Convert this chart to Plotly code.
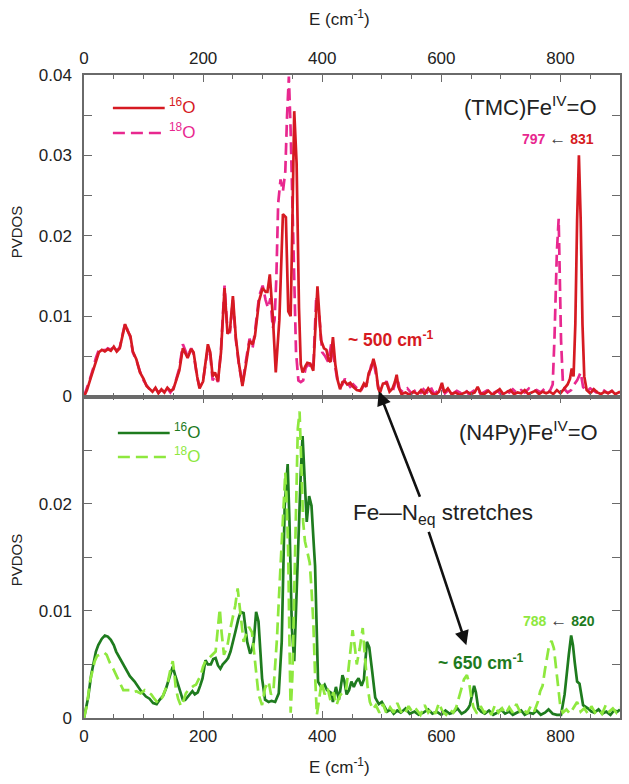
import numpy as np
import plotly.graph_objects as go

# ---------------- data (PVDOS values given in units of 1e-3) ----------------
tmc16_E = [0,5,10,15,20,25,30,35,40,45,50,55,60,65,69,73,78,82,88,94,100,105,110,115,120,125,130,135,140,145,150,155,160,166,170,174,180,184,190,194,200,205,208,212,216,220,225,230,236,241,245,250,255,260,266,272,278,283,287,294,300,305,308,312,317,322,328,334,339,343,347,350,353,357,361,364,367,372,375,380,385,392,398,403,407,411,414,418,422,426,430,434,438,442,447,452,458,464,470,474,478,482,486,490,494,497,502,508,513,518,522,525,528,533,540,547,553,560,566,572,578,584,590,596,601,605,611,617,624,630,637,643,650,656,661,666,672,679,686,692,698,704,710,716,722,728,734,740,746,752,758,764,770,776,782,788,794,800,806,812,816,819,822,825,828,831,834,837,840,844,850,856,862,868,874,880,886,892,900]
tmc16_v = [0,0.8,2.0,3.2,4.6,5.5,5.8,5.6,5.9,5.7,6.2,5.6,6.0,7.6,9.0,8.2,7.5,5.6,4.6,3.0,2.2,1.3,1.0,0.6,1.1,0.4,0.9,0.5,1.1,0.7,0.9,2.0,3.2,6.0,5.4,4.8,5.9,5.5,2.5,1.0,1.9,4.5,6.5,5.5,2.5,3.0,1.9,5.5,13.5,7.8,8.2,12.5,7.3,4.2,1.3,4.0,6.9,6.5,7.5,11.9,13.5,13.0,13.0,15.2,10.0,3.0,9.5,22.7,22.3,10.6,10.0,22.0,35.5,29.0,11.0,4.0,3.0,3.8,4.2,4.1,3.2,13.7,7.0,6.0,5.8,4.5,4.3,7.4,4.0,2.0,0.9,1.8,1.9,1.5,1.7,1.2,0.8,0.7,1.6,1.2,2.9,3.5,4.7,3.5,1.0,0.5,1.6,1.7,0.6,1.0,1.8,2.7,1.2,0.3,0.5,0.2,0.6,0.3,0.8,0.3,1.0,0.4,0.2,0.6,1.7,0.5,1.0,0.3,0.5,0.2,0.4,0.6,0.3,0.5,1.2,0.4,0.3,0.7,0.2,0.5,0.9,0.3,0.5,0.8,0.3,0.5,0.4,0.8,0.3,0.5,0.7,0.3,0.6,0.4,0.6,0.3,0.8,0.4,0.9,1.5,2.2,3.5,2.5,9.0,22.0,30.0,22.0,9.0,2.5,0.8,0.4,0.9,0.5,0.3,0.6,0.4,0.7,0.3,0.6]

tmc18_E = [0,5,10,15,20,25,30,35,40,45,50,55,60,65,69,73,78,82,88,94,100,105,110,115,120,125,130,135,140,145,150,155,160,166,170,174,180,184,190,194,200,205,208,212,216,220,225,230,236,241,245,250,255,260,266,272,278,283,287,294,300,305,309,313,317,320,323,326,330,334,338,341,344,347,350,353,356,360,364,368,372,376,380,385,390,395,400,405,410,415,420,425,430,434,438,442,447,452,458,464,470,474,478,482,486,490,494,498,503,508,513,518,522,526,530,536,543,550,557,564,570,576,582,588,594,600,606,612,618,626,633,640,646,653,660,666,673,680,687,694,700,707,714,720,727,734,740,747,754,760,767,774,780,783,787,790,794,797,801,804,808,812,818,823,828,834,838,844,850,860,870,880,890,900]
tmc18_v = [0,1.0,2.2,3.4,4.8,5.8,6.0,5.7,6.0,5.8,6.3,5.7,6.1,7.8,9.1,8.3,7.3,5.5,4.5,3.1,2.0,1.4,0.9,0.7,1.0,0.5,0.8,0.6,1.0,0.5,1.0,2.2,3.5,6.5,5.8,5.0,6.0,5.3,2.4,1.2,2.0,4.2,6.0,5.2,2.0,2.6,1.8,5.8,13.8,8.0,8.0,12.0,7.0,4.0,1.5,4.5,7.2,6.0,8.0,12.5,13.8,12.0,11.0,12.2,8.5,9.5,14.8,24.0,27.0,25.5,28.0,35.0,39.8,33.0,24.0,15.0,5.5,2.0,1.8,2.0,3.5,4.0,3.8,3.5,12.5,10.0,5.5,5.0,4.3,6.5,4.5,2.2,1.2,1.5,2.2,1.8,1.2,1.5,1.0,0.6,1.4,1.5,2.5,3.8,4.5,3.0,1.2,0.8,1.4,1.9,0.8,0.6,1.5,2.4,0.9,0.5,1.0,0.4,0.8,0.3,0.9,0.5,1.2,0.3,0.7,1.3,0.4,0.8,0.3,0.7,0.4,0.9,0.3,0.6,1.0,0.3,0.6,0.9,0.4,0.7,0.3,0.8,0.5,0.9,0.4,0.8,0.5,1.0,0.6,0.8,0.5,1.0,0.6,0.8,1.5,7.3,18.0,22.1,7.0,1.9,0.8,0.5,0.8,1.5,2.0,3.0,1.2,0.6,1.0,0.5,0.9,0.4,0.8,0.5]

n4py16_E = [0,7,12,16,20,24,30,35,40,45,50,54,60,66,72,77,85,90,96,104,110,116,122,127,133,138,144,149,153,157,162,166,170,174,178,182,186,191,195,199,204,208,213,217,221,225,229,233,238,242,246,250,254,259,263,268,271,274,279,282,285,289,293,296,299,304,310,315,321,327,332,337,342,345,349,353,356,360,364,367,371,374,378,382,386,388,393,399,404,408,414,418,423,428,434,437,441,445,449,453,457,461,466,470,475,479,484,489,495,500,505,509,515,520,526,532,540,547,555,562,570,578,585,592,600,607,614,620,627,634,640,645,648,652,655,658,662,667,673,680,687,694,700,707,714,720,727,734,740,747,754,760,767,774,780,787,794,801,807,811,814,818,821,824,828,832,835,838,846,852,857,864,870,877,884,890,896,900]
n4py16_v = [0,1.9,4.0,5.3,6.2,6.8,7.4,7.7,7.6,7.3,6.8,6.2,5.6,5.0,4.4,3.9,3.4,3.0,2.5,2.0,1.8,1.4,1.3,1.7,2.1,2.8,3.8,4.8,4.0,3.3,2.4,1.7,1.7,2.0,2.2,2.5,2.2,2.4,3.0,3.7,5.4,5.0,5.0,5.5,5.6,4.9,4.6,5.0,5.3,5.6,6.2,7.0,8.0,9.2,9.9,9.8,8.5,7.1,6.0,6.4,7.1,9.9,9.0,6.0,3.7,1.7,1.5,1.6,1.5,2.3,7.1,19.8,23.7,18.3,8.4,5.3,10.5,17.6,22.9,26.3,21.4,18.3,20.7,19.8,16.0,14.2,3.4,2.8,3.1,2.6,2.4,1.5,2.9,1.7,4.0,3.5,2.2,2.6,3.4,2.9,3.4,3.7,3.0,3.6,7.1,6.6,4.3,1.9,1.3,1.5,1.0,0.6,0.8,0.4,0.7,0.5,0.9,0.4,0.6,0.3,0.5,0.8,0.4,0.6,0.3,0.7,0.4,0.5,0.9,0.4,0.6,0.9,1.2,2.2,3.0,2.4,0.9,0.6,0.4,0.7,0.3,0.5,0.8,0.4,0.6,0.3,0.5,0.7,0.3,0.5,0.4,0.7,0.3,0.5,0.8,0.4,0.3,0.3,2.2,4.5,5.9,7.7,6.8,5.2,3.4,3.2,2.0,1.2,0.9,0.6,0.5,0.8,0.4,0.6,0.3,0.7,0.6,0.8]

n4py18_E = [0,5,10,14,18,22,29,34,38,43,49,53,57,62,66,72,77,83,88,95,102,108,113,118,124,128,132,137,141,145,149,152,154,158,163,167,171,175,179,184,188,192,196,200,204,210,216,221,225,228,231,235,238,241,246,250,254,258,263,268,272,277,282,285,288,293,299,304,310,314,318,321,324,328,332,335,338,341,343,345,347,350,352,356,359,362,364,368,371,374,379,382,385,388,391,395,399,404,409,414,419,424,429,435,440,444,447,451,455,458,463,468,472,476,480,485,490,496,502,508,514,520,526,532,538,545,552,558,565,572,578,584,590,596,602,608,614,620,625,630,634,638,643,647,650,654,660,666,672,678,684,690,696,702,708,714,720,726,732,738,744,750,756,762,766,770,774,778,781,785,789,793,797,800,804,810,816,822,828,834,840,846,852,858,864,870,876,882,888,894,900]
n4py18_v = [0,1.2,3.4,4.5,5.3,5.8,6.0,6.1,5.9,5.2,4.6,4.1,3.7,3.1,2.6,2.6,2.6,2.4,2.5,2.3,2.6,2.4,2.2,1.8,1.4,1.6,2.0,2.7,3.4,4.5,5.3,4.0,2.8,1.8,1.1,1.6,2.3,2.6,2.8,3.0,3.1,3.6,4.0,4.8,5.3,5.6,5.9,6.2,8.5,10.2,8.0,5.9,6.3,6.8,8.4,9.5,10.5,12.1,9.6,7.1,7.8,8.5,8.0,6.5,5.0,2.2,1.2,2.8,3.4,2.2,2.5,5.0,7.4,12.0,16.7,20.5,22.9,19.0,15.0,7.0,0.5,4.0,9.0,21.0,27.0,28.6,25.5,18.3,16.5,15.8,14.5,12.0,9.0,4.0,0.3,1.8,3.4,2.2,2.8,1.6,2.4,1.2,2.0,2.5,2.6,4.5,6.0,8.2,6.5,5.0,6.5,8.4,5.5,3.0,1.5,0.8,1.2,0.5,1.3,0.4,1.0,0.5,1.4,0.6,0.3,1.1,0.5,0.8,0.3,1.2,0.5,0.9,0.4,1.4,0.6,0.3,0.8,0.5,1.0,2.0,3.0,3.6,4.0,3.2,2.0,1.0,0.4,1.1,0.5,0.8,0.3,1.2,0.5,0.9,0.4,1.0,0.5,1.3,0.6,0.9,0.4,1.1,0.6,1.5,2.5,3.0,4.5,6.0,6.8,7.2,6.5,4.5,2.5,1.0,0.5,0.8,0.4,1.0,1.5,0.6,0.9,0.4,1.1,0.5,0.8,0.4,1.2,0.6,0.9,0.5,1.0]

x_ticks = [0, 200, 400, 600, 800]
top_yvals = [0, 0.005, 0.01, 0.015, 0.02, 0.025, 0.03, 0.035, 0.04]
top_ylabels = ["0", "", "0.01", "", "0.02", "", "0.03", "", "0.04"]
bot_yvals = [0, 0.005, 0.01, 0.015, 0.02, 0.025]
bot_ylabels = ["0", "", "0.01", "", "0.02", ""]

# ---------------- style ----------------
RED = "#d61a22"
MAG = "#e8288f"
DKG = "#1e7b1e"
LTG = "#8ee83e"
AX = "#6a6a6a"
FONT = "Liberation Sans, Arial, sans-serif"

W, H = 629, 784
ML, MR, MT, MB = 84, 7, 75, 66
PW, PH = W - ML - MR, H - MT - MB

def px(x):
    return (x - ML) / PW

def py(y):
    return (H - MB - y) / PH

scale = lambda v: np.array(v) / 1000.0

fig = go.Figure()
fig.add_trace(go.Scatter(x=tmc18_E, y=scale(tmc18_v), mode="lines", xaxis="x", yaxis="y",
                         line=dict(color=MAG, width=2.7, dash="12px,6px"), showlegend=False))
fig.add_trace(go.Scatter(x=tmc16_E, y=scale(tmc16_v), mode="lines", xaxis="x", yaxis="y",
                         line=dict(color=RED, width=2.7), showlegend=False))
fig.add_trace(go.Scatter(x=n4py16_E, y=scale(n4py16_v), mode="lines", xaxis="x2", yaxis="y2",
                         line=dict(color=DKG, width=2.7), showlegend=False))
fig.add_trace(go.Scatter(x=n4py18_E, y=scale(n4py18_v), mode="lines", xaxis="x2", yaxis="y2",
                         line=dict(color=LTG, width=2.7, dash="12px,6px"), showlegend=False))

xcommon = dict(range=[0, 900], tickvals=x_ticks, ticks="inside", ticklen=7, tickwidth=1.3,
               tickcolor=AX, showline=True, linecolor=AX, linewidth=1.5, mirror="ticks",
               showgrid=False, zeroline=False, tickfont=dict(size=17, color="#222", family=FONT),
               minor=dict(dtick=50, tick0=0, ticks="inside", ticklen=4, tickcolor=AX, showgrid=False))
ycommon = dict(ticks="inside", ticklen=8, tickwidth=1.3, tickcolor=AX, showline=True,
               linecolor=AX, linewidth=1.5, mirror="ticks", showgrid=False, zeroline=False,
               tickfont=dict(size=17, color="#222", family=FONT), ticklabelstandoff=7)

fig.update_layout(
    width=W, height=H, margin=dict(l=ML, r=MR, t=MT, b=MB),
    paper_bgcolor="white", plot_bgcolor="white",
    font=dict(family=FONT, color="#222"),
    xaxis=dict(**xcommon, anchor="y", side="top", domain=[0, 1], ticklabelstandoff=2),
    yaxis=dict(**ycommon, domain=[0.5, 1], range=[0, 0.04], tickvals=top_yvals, ticktext=top_ylabels, anchor="x"),
    xaxis2=dict(**xcommon, anchor="y2", side="bottom", domain=[0, 1], ticklabelstandoff=2),
    yaxis2=dict(**ycommon, domain=[0, 0.5], range=[0, 0.03], tickvals=bot_yvals, ticktext=bot_ylabels, anchor="x2"),
)

ann = []
def text(x, y, s, size, color, xanchor="left", yanchor="middle", angle=0):
    ann.append(dict(x=px(x), y=py(y), xref="paper", yref="paper", text=s, showarrow=False,
                    xanchor=xanchor, yanchor=yanchor, textangle=angle,
                    font=dict(size=size, color=color, family=FONT)))

# axis titles
text(340, 18, "E (cm<sup>-1</sup>)", 17, "#222", xanchor="center")
text(340, 766, "E (cm<sup>-1</sup>)", 17, "#222", xanchor="center")
text(16, 232, "PVDOS", 15, "#222", xanchor="center", angle=-90)
text(16, 560, "PVDOS", 15, "#222", xanchor="center", angle=-90)

# panel labels
text(601, 106, "(TMC)Fe<sup>IV</sup>=O", 22, "#222", xanchor="right")
text(602, 431, "(N4Py)Fe<sup>IV</sup>=O", 22, "#222", xanchor="right")

# isotope shift labels
text(598, 138, "<b><span style='color:%s'>797</span></b> <span style='color:#444;font-size:17px'>\u2190</span> "
               "<b><span style='color:%s'>831</span></b>" % (MAG, RED), 14, RED, xanchor="right")
text(599, 620, "<b><span style='color:%s'>788</span></b> <span style='color:#444;font-size:17px'>\u2190</span> "
               "<b><span style='color:%s'>820</span></b>" % (LTG, DKG), 14, DKG, xanchor="right")

text(347, 339, "<b>~ 500 cm<sup>-1</sup></b>", 17.5, RED)
text(437, 662, "<b>~ 650 cm<sup>-1</sup></b>", 17.5, DKG)
text(352, 514, "Fe\u2014N<sub>eq</sub> stretches", 22.5, "#222")

# legends
shapes = []
def legline(x0, x1, y, color, dash):
    shapes.append(dict(type="line", xref="paper", yref="paper", x0=px(x0), x1=px(x1),
                       y0=py(y), y1=py(y), line=dict(color=color, width=2.7, dash=dash)))
legline(113, 165, 108, RED, "solid")
legline(113, 165, 133, MAG, "12px,6px")
text(167, 106, "<sup>16</sup>O", 17, RED)
text(167, 131, "<sup>18</sup>O", 17, MAG)
legline(118, 170, 433, DKG, "solid")
legline(118, 170, 457, LTG, "12px,6px")
text(172, 431, "<sup>16</sup>O", 17, DKG)
text(172, 455, "<sup>18</sup>O", 17, LTG)

# arrows
ann.append(dict(x=495, y=0.0305, ax=565, ay=0.0205, xref="x2", yref="y2", axref="x2", ayref="y2",
                showarrow=True, arrowhead=2, arrowsize=1.1, arrowwidth=2.6, arrowcolor="#111", text=""))
ann.append(dict(x=642, y=0.0068, ax=578, ay=0.0175, xref="x2", yref="y2", axref="x2", ayref="y2",
                showarrow=True, arrowhead=2, arrowsize=1.1, arrowwidth=2.6, arrowcolor="#111", text=""))

fig.update_layout(annotations=ann, shapes=shapes)
fig.write_html("out.html", config={"displayModeBar": False},
               post_script="document.body.style.margin='0';")
